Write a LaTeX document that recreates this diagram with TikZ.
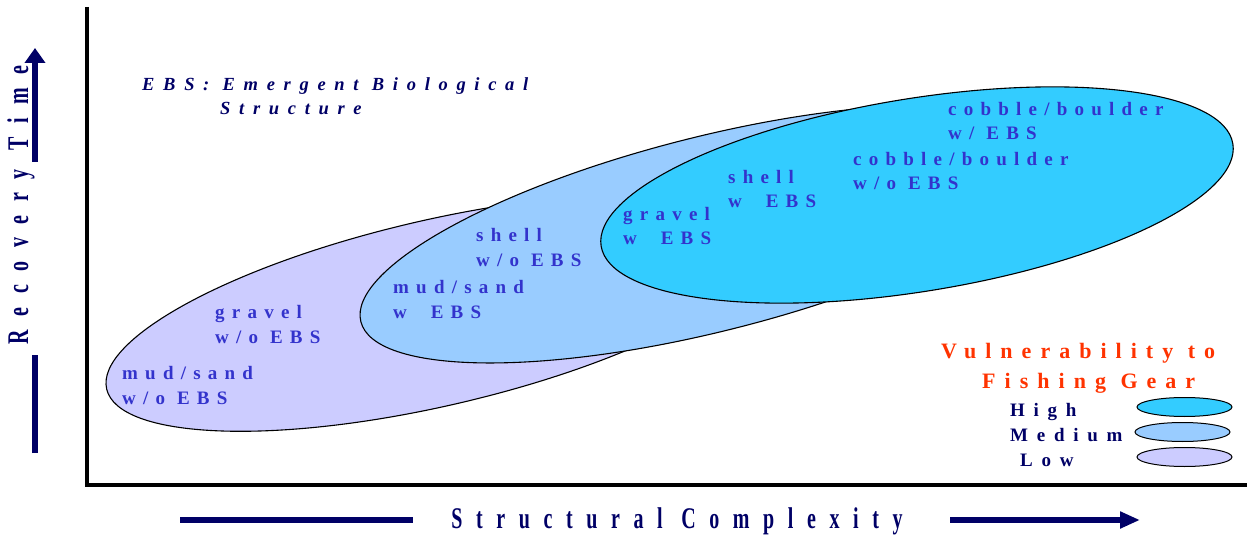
\documentclass[tikz,border=0pt]{standalone}
\usepackage{fontspec}
\setmainfont{Liberation Serif}
\newfontfamily\zonefont[LetterSpace=38]{Liberation Serif}
\newfontfamily\axisfont[LetterSpace=68]{Liberation Serif}
\newfontfamily\notefont[LetterSpace=47]{Liberation Serif}
\newfontfamily\keyfont[LetterSpace=41]{Liberation Serif}
\newfontfamily\gradefont[LetterSpace=46]{Liberation Serif}
\usetikzlibrary{shapes,arrows.meta,positioning}
\definecolor{lowfill}{HTML}{CCCCFF}
\definecolor{medfill}{HTML}{99CCFF}
\definecolor{highfill}{HTML}{33CCFF}
\definecolor{zonetext}{HTML}{3333CC}
\definecolor{navyink}{HTML}{000066}
\definecolor{keyink}{HTML}{FF3300}
\tikzstyle{zone} = [ellipse, draw=black, line width=1.1pt, inner sep=0pt]
\tikzstyle{zonelabel} = [anchor=base west, align=left, inner sep=0pt, text=zonetext,
    font=\zonefont\bfseries\fontsize{19}{24.5}\selectfont]
\tikzstyle{axisline} = [draw=navyink, line width=6pt]
\tikzstyle{axislabel} = [anchor=base, inner sep=0pt, text=navyink,
    font=\axisfont\bfseries\fontsize{20}{22}\selectfont]
\tikzstyle{grade} = [anchor=base west, inner sep=0pt, text=navyink,
    font=\gradefont\bfseries\fontsize{19}{20}\selectfont]
\tikzstyle{keyshape} = [ellipse, draw=black, line width=1pt, inner sep=0pt,
    minimum width=95pt, minimum height=19pt]

\begin{document}
\begin{tikzpicture}[x=1pt, y=-1pt]
\useasboundingbox (0,0) rectangle (1247,537);
% axes
\draw[line width=4pt] (87,7) |- (1247,484.5);
\draw[axisline] (35,453) -- (35,355);
\node[axislabel, rotate=90] (rtime) at (28,205) {\scalebox{1}[1.5]{Recovery Time}};
\draw[axisline, -{Triangle[length=15pt, width=20pt]}] (35,162) -- (35,48);
\draw[axisline] (180,520) -- (413,520);
\node[axislabel] (scomp) at (677,528) {\scalebox{1}[1.5]{Structural Complexity}};
\draw[axisline, -{Triangle[length=20pt, width=16pt]}] (950,520) -- (1140,520);
% note (base = last line)
\node[anchor=base west, align=left, inner sep=0pt, text=navyink,
  font=\notefont\bfseries\itshape\fontsize{18.5}{24}\selectfont] (ebs) at (142,115)
  {EBS: Emergent Biological\\\hspace*{78pt}Structure};
% zones
\node[zone, fill=lowfill, minimum width=676pt, minimum height=186pt, rotate=13] (low) at (436,313) {};
\node[zone, fill=medfill, minimum width=720pt, minimum height=195pt, rotate=14.1] (medium) at (710,234) {};
\node[zone, fill=highfill, minimum width=640pt, minimum height=193pt, rotate=9.2] (high) at (917,195) {};
\node[zonelabel] (lowmud) at (122,404) {mud/sand\\w/o EBS};
\node[zonelabel] (lowgravel) at (215,343) {gravel\\w/o EBS};
\node[zonelabel] (medmud) at (393,318) {mud/sand\\w\ \ EBS};
\node[zonelabel] (medshell) at (476,266) {shell\\w/o EBS};
\node[zonelabel] (highgravel) at (623,245) {gravel\\w\ \ EBS};
\node[zonelabel] (highshell) at (728,208) {shell\\w\ \ EBS};
\node[zonelabel] (cobbleno) at (853,190) {cobble/boulder\\w/o EBS};
\node[zonelabel] (cobblew) at (948,140) {cobble/boulder\\w/ EBS};
% key
\node[anchor=base west, align=left, inner sep=0pt, text=keyink,
  font=\keyfont\bfseries\fontsize{22}{30}\selectfont] (vuln) at (941,388)
  {Vulnerability to\\\hspace*{41pt}Fishing Gear};
\node[grade] (ghigh) at (1010,416) {High};
\node[grade] (gmed) at (1010,441) {Medium};
\node[grade] (glow) at (1020,466) {Low};
\node[keyshape, fill=highfill] (khigh) at (1184.5,407) {};
\node[keyshape, fill=medfill] (kmed) at (1182.5,432) {};
\node[keyshape, fill=lowfill] (klow) at (1184.5,457) {};
\end{tikzpicture}
\end{document}
